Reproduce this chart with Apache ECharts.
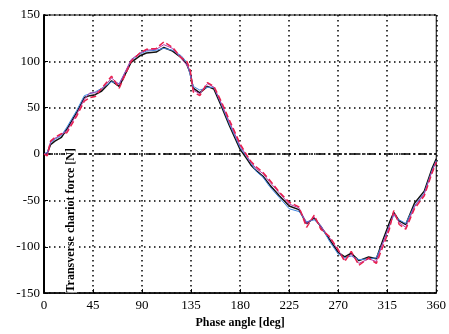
<!DOCTYPE html>
<html>
<head>
<meta charset="utf-8">
<script src="https://cdn.jsdelivr.net/npm/echarts@6/dist/echarts.min.js"></script>
<style>
  html, body { margin: 0; padding: 0; background: #fff; }
  #chart { width: 449px; height: 334px; }
</style>
</head>
<body>
<div id="chart"></div>
<script>
// phase angle [deg] sample points
const phase = [0, 3, 6, 10, 16, 21, 30, 37, 42, 47, 53, 62, 69, 80, 88, 94, 103, 110, 118, 126, 131, 134, 137, 143, 150, 156, 163, 170, 180, 186, 190, 195, 201, 207, 216, 225, 234, 241, 248, 254, 262, 270, 276, 282, 289, 298, 305, 311, 317, 321, 326, 332, 340, 349, 356, 360]

// transverse chariot force [N]
const forceBlack = [0, 1, 10, 14, 18, 27, 45, 61, 63, 64, 68, 79, 73, 99, 106, 109, 110, 115, 111, 104, 97, 88, 71, 66, 73, 70, 51, 31, 5, -5, -12, -18, -24, -33, -45, -56, -60, -75, -69, -78, -92, -106, -111, -107, -115, -111, -113, -93, -74, -63, -72, -76, -53, -40, -16, -5]
const forceBlue = [0, 2, 12, 16, 20, 29, 47, 63, 65, 67, 71, 78, 76, 101, 108, 111, 112, 114, 112, 106, 99, 86, 73, 69, 72, 72, 53, 33, 7, -3, -10, -19, -25, -35, -47, -59, -62, -73, -71, -77, -94, -108, -112, -110, -114, -113, -112, -96, -77, -66, -71, -75, -56, -42, -18, -7]
const forceMagenta = [0, 0, 13, 17, 21, 25, 43, 59, 66, 66, 70, 82, 75, 102, 109, 112, 113, 118, 114, 103, 96, 90, 69, 65, 76, 72, 54, 35, 9, -2, -9, -16, -21, -30, -42, -54, -58, -75, -68, -78, -90, -104, -114, -108, -118, -113, -116, -96, -78, -64, -74, -79, -57, -43, -19, -8]
const forceRed = [0, -2, 14, 18, 22, 23, 41, 57, 61, 62, 71, 84, 71, 100, 109, 113, 114, 121, 115, 104, 100, 92, 67, 63, 77, 73, 56, 37, 11, -1, -8, -14, -20, -28, -41, -52, -57, -79, -66, -81, -89, -103, -116, -105, -120, -112, -118, -100, -81, -61, -76, -81, -59, -45, -21, -9]

const zeroLine = [[0, 0], [360, 0]]

const pairs = (ys) => phase.map((x, i) => [x, ys[i]])

const chart = echarts.init(document.getElementById('chart'))

const serif = 'Liberation Serif'

chart.setOption({
  animation: false,
  grid: {
    left: 44, right: 12, top: 15, bottom: 39,
    show: true, borderColor: '#000', borderWidth: 1
  },
  xAxis: {
    type: 'value',
    min: 0, max: 360, interval: 45,
    name: 'Phase angle [deg]',
    nameLocation: 'middle',
    nameGap: 23,
    nameTextStyle: { fontFamily: serif, fontSize: 12, fontWeight: 'bold', color: '#000' },
    axisLine: { show: true, onZero: false, lineStyle: { color: '#000', width: 1.5 } },
    axisTick: { show: true, inside: true, length: 4, lineStyle: { color: '#000' } },
    axisLabel: { fontFamily: serif, fontSize: 13, color: '#000', margin: 6 },
    splitLine: { show: true, lineStyle: { color: '#000', type: [1.5, 3.5], width: 1.5 } }
  },
  yAxis: {
    type: 'value',
    min: -150, max: 150, interval: 50,
    axisLine: { show: true, onZero: false, lineStyle: { color: '#000', width: 2 } },
    axisTick: { show: true, inside: true, length: 4, lineStyle: { color: '#000' } },
    axisLabel: { fontFamily: serif, fontSize: 13, color: '#000', margin: 4 },
    splitLine: { show: true, lineStyle: { color: '#000', type: [1.5, 3.5], width: 1.5 } }
  },
  series: [
    {
      type: 'line', data: zeroLine, symbol: 'none', z: 1,
      lineStyle: { color: '#000', width: 1.5, type: [9, 3, 2, 3] }
    },
    {
      name: 'black', type: 'line', data: pairs(forceBlack), symbol: 'none',
      lineStyle: { color: '#111', width: 1.5 }
    },
    {
      name: 'blue', type: 'line', data: pairs(forceBlue), symbol: 'none',
      lineStyle: { color: '#3f86e0', width: 1 }
    },
    {
      name: 'magenta', type: 'line', data: pairs(forceMagenta), symbol: 'none',
      lineStyle: { color: '#b03aa8', width: 1 }
    },
    {
      name: 'red', type: 'line', data: pairs(forceRed), symbol: 'none',
      lineStyle: { color: '#e8204e', width: 1.5, type: [6, 3] }
    }
  ],
  graphic: [
    {
      type: 'text',
      left: 65,
      top: 148,
      rotation: Math.PI / 2,
      z: 100,
      style: {
        text: 'Transverse chariot force [N]',
        fontFamily: serif,
        fontSize: 12,
        fontWeight: 'bold',
        fill: '#000',
        backgroundColor: '#fff'
      }
    }
  ]
})
</script>
</body>
</html>
